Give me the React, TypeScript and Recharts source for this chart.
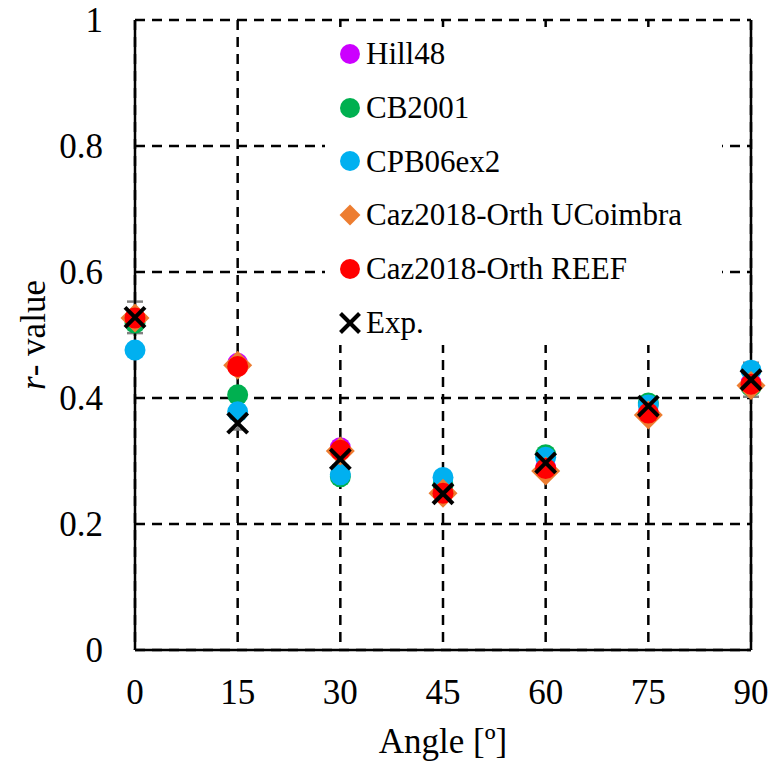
import React from 'react';
import {
  ScatterChart,
  Scatter,
  XAxis,
  YAxis,
  CartesianGrid,
  Legend,
  ReferenceLine,
  ErrorBar,
  Label,
} from 'recharts';

// ---------- data ----------
const angles = [0, 15, 30, 45, 60, 75, 90];
const hill48 = [0.525, 0.455, 0.321, 0.251, 0.29, 0.376, 0.424];
const cb2001 = [0.519, 0.405, 0.275, 0.262, 0.31, 0.392, 0.418];
const cpb06ex2 = [0.476, 0.378, 0.278, 0.274, 0.306, 0.389, 0.444];
const cazUCoimbra = [0.527, 0.452, 0.316, 0.249, 0.284, 0.373, 0.42];
const cazREEF = [0.527, 0.45, 0.317, 0.249, 0.288, 0.376, 0.422];
const expValues = [0.528, 0.36, 0.303, 0.248, 0.297, 0.387, 0.429];
const expErrors = [0.025, 0.01, 0.01, 0.01, 0.01, 0.01, 0.027];

const xTicks = [0, 15, 30, 45, 60, 75, 90];
const yTicks = [0, 0.2, 0.4, 0.6, 0.8, 1];

const seriesNames = ['Hill48', 'CB2001', 'CPB06ex2', 'Caz2018-Orth UCoimbra', 'Caz2018-Orth REEF', 'Exp.'];
const seriesValues = [hill48, cb2001, cpb06ex2, cazUCoimbra, cazREEF, expValues];
const seriesColors = ['#CC00FF', '#00B050', '#00B0F0', '#ED7D31', '#FF0000', '#000000'];
const seriesShapes = ['circle', 'circle', 'circle', 'diamond', 'circle', 'cross'];

const FONT = '"Liberation Serif", "Times New Roman", serif';

const toPoints = (vals: number[]) => angles.map((a, i) => ({ x: a, y: vals[i] }));
const expErrPoints = angles.map((a, i) => ({ x: a, y: expValues[i], err: expErrors[i] }));

// ---------- marker drawing ----------
function drawMarker(kind: string, color: string, cx: number, cy: number, scale = 1) {
  if (kind === 'circle') {
    return <circle cx={cx} cy={cy} r={10.5 * scale} fill={color} />;
  }
  if (kind === 'diamond') {
    const h = 14.5 * scale;
    return (
      <polygon
        points={`${cx},${cy - h} ${cx + h},${cy} ${cx},${cy + h} ${cx - h},${cy}`}
        fill={color}
      />
    );
  }
  const d = 10 * scale;
  return (
    <g>
      <line x1={cx - d} y1={cy - d} x2={cx + d} y2={cy + d} stroke={color} strokeWidth={4} />
      <line x1={cx - d} y1={cy + d} x2={cx + d} y2={cy - d} stroke={color} strokeWidth={4} />
    </g>
  );
}

const makeShape = (kind: string, color: string) => (props: any) => {
  if (props == null || props.cx == null || props.cy == null) return <g />;
  return drawMarker(kind, color, props.cx, props.cy);
};

// ---------- legend ----------
const ROW_H = 53.8;
const LegendBox = () => (
  <div
    style={{
      position: 'relative',
      width: 397,
      height: 318,
      background: '#fff',
      fontFamily: FONT,
      fontSize: 31,
      color: '#000',
    }}
  >
    {seriesNames.map((name, i) => {
      const kind = seriesShapes[i];
      return (
        <div key={name} style={{ position: 'absolute', left: 0, top: i * ROW_H, height: ROW_H, width: '100%' }}>
          <svg width={24} height={24} style={{ position: 'absolute', left: 13, top: (ROW_H - 24) / 2 }}>
            {drawMarker(kind, seriesColors[i], 12, 12, kind === 'diamond' ? 0.72 : 0.95)}
          </svg>
          <span
            style={{
              position: 'absolute',
              left: 41,
              top: 0,
              lineHeight: `${ROW_H}px`,
              whiteSpace: 'nowrap',
            }}
          >
            {name}
          </span>
        </div>
      );
    })}
  </div>
);

// ---------- axis titles ----------
const renderYTitle = (props: any) => {
  const vb = props.viewBox || {};
  const cx = (vb.x || 0) + 25;
  const cy = (vb.y || 0) + (vb.height || 0) / 2;
  return (
    <text
      x={cx}
      y={cy}
      transform={`rotate(-90 ${cx} ${cy})`}
      textAnchor="middle"
      dominantBaseline="central"
      fontFamily={FONT}
      fontSize={35}
      fill="#000"
    >
      <tspan fontStyle="italic">r</tspan>
      <tspan>- value</tspan>
    </text>
  );
};

const renderXTitle = (props: any) => {
  const vb = props.viewBox || {};
  const cx = (vb.x || 0) + (vb.width || 0) / 2;
  const y = (vb.y || 0) + 103;
  return (
    <text x={cx} y={y} textAnchor="middle" fontFamily={FONT} fontSize={35} fill="#000">
      Angle [º]
    </text>
  );
};

const tickStyle = { fill: '#000', fontFamily: FONT, fontSize: 35 };

export default function App() {
  return (
    <div style={{ marginTop: -8, width: 771, height: 765 }}>
      <ScatterChart
        width={771}
        height={765}
        margin={{ top: 20, right: 28, bottom: 0, left: 0 }}
      >
        <CartesianGrid stroke="#000" strokeWidth={2.5} strokeDasharray="10 7" />
        <XAxis
          dataKey="x"
          type="number"
          domain={[0, 90]}
          ticks={xTicks}
          interval={0}
          height={115}
          tickLine={false}
          tickSize={0}
          tickMargin={29}
          axisLine={{ stroke: '#000', strokeWidth: 2.5 }}
          tick={tickStyle}
        >
          <Label content={renderXTitle} />
        </XAxis>
        <XAxis
          xAxisId="top"
          orientation="top"
          type="number"
          domain={[0, 90]}
          allowDataOverflow
          ticks={xTicks}
          interval={0}
          mirror
          height={0}
          axisLine={false}
          tick={false}
          tickLine={{ stroke: '#000', strokeWidth: 2.5 }}
          tickSize={7}
        />
        <YAxis
          dataKey="y"
          type="number"
          domain={[0, 1]}
          ticks={yTicks}
          interval={0}
          width={127}
          tickLine={false}
          tickSize={0}
          tickMargin={32}
          axisLine={{ stroke: '#000', strokeWidth: 2.5 }}
          tick={tickStyle}
          tickFormatter={(v: number) => String(v)}
        >
          <Label content={renderYTitle} />
        </YAxis>
        <ReferenceLine x={90} stroke="#000" strokeWidth={2.5} />
        <Legend
          content={<LegendBox />}
          layout="horizontal"
          verticalAlign="middle"
          align="center"
          wrapperStyle={{ position: 'absolute', left: 317, top: 27, width: 397, height: 318, margin: 0, padding: 0 }}
        />
        <Scatter
          name="ExpErr"
          data={expErrPoints}
          legendType="none"
          isAnimationActive={false}
          shape={() => <g />}
        >
          <ErrorBar dataKey="err" direction="y" width={8} stroke="#808080" strokeWidth={2.5} />
        </Scatter>
        {seriesNames.map((name, i) => (
          <Scatter
            key={name}
            name={name}
            data={toPoints(seriesValues[i])}
            isAnimationActive={false}
            shape={makeShape(seriesShapes[i], seriesColors[i])}
          />
        ))}
      </ScatterChart>
    </div>
  );
}
